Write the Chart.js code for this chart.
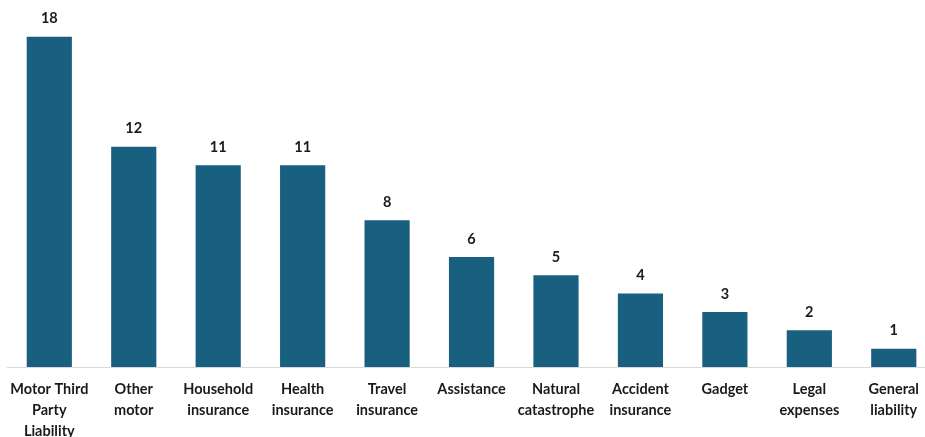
<!DOCTYPE html>
<html>
<head>
<meta charset="utf-8">
<script src="https://cdn.jsdelivr.net/npm/chart.js@4"></script>
<style>
  html, body { margin: 0; padding: 0; background: #fff; overflow: hidden; }
  #wrap { position: relative; left: -2px; width: 939px; height: 437px; }
</style>
</head>
<body>
<div id="wrap"><canvas id="claims-chart"></canvas></div>
<script>
/*---------- Chart data ----------------*/
const categories = [
  ["Motor Third", "Party", "Liability"],
  ["Other", "motor"],
  ["Household", "insurance"],
  ["Health", "insurance"],
  ["Travel", "insurance"],
  ["Assistance"],
  ["Natural", "catastrophe"],
  ["Accident", "insurance"],
  ["Gadget"],
  ["Legal", "expenses"],
  ["General", "liability"],
];
const values = [18, 12, 11, 11, 8, 6, 5, 4, 3, 2, 1];

const barColor = "#185f80";
const textColor = "#1a1a1a";
const fontFamily = "Lato, 'Open Sans', sans-serif";

// Draws the value above each bar
const valueLabels = {
  id: "valueLabels",
  afterDatasetsDraw(chart) {
    const ctx = chart.ctx;
    const meta = chart.getDatasetMeta(0);
    ctx.save();
    ctx.font = "bold 14.5px " + fontFamily;
    ctx.fillStyle = textColor;
    ctx.textAlign = "center";
    ctx.textBaseline = "middle";
    meta.data.forEach((bar, i) => {
      ctx.fillText(values[i], bar.x, bar.y - 18);
    });
    ctx.restore();
  },
};

const claimsChart = new Chart(document.getElementById("claims-chart"), {
  type: "bar",
  data: {
    labels: categories,
    datasets: [
      {
        data: values,
        backgroundColor: barColor,
        borderWidth: 0,
        barPercentage: 0.535,
        categoryPercentage: 1,
      },
    ],
  },
  options: {
    responsive: true,
    maintainAspectRatio: false,
    animation: false,
    layout: {
      padding: { left: 5, right: 1, top: 0, bottom: 0 },
    },
    plugins: {
      legend: { display: false },
      tooltip: { enabled: false },
    },
    scales: {
      x: {
        grid: { display: false, drawTicks: false },
        border: { display: true, color: "#d9d9d9", width: 1 },
        ticks: {
          color: textColor,
          font: { family: fontFamily, size: 14.5, weight: "bold", lineHeight: 1.45 },
          padding: 12,
          maxRotation: 0,
          autoSkip: false,
        },
        afterFit(scale) {
          scale.height = 70;
        },
      },
      y: {
        display: false,
        min: 0,
        max: 20,
      },
    },
  },
  plugins: [valueLabels],
});
</script>
</body>
</html>
